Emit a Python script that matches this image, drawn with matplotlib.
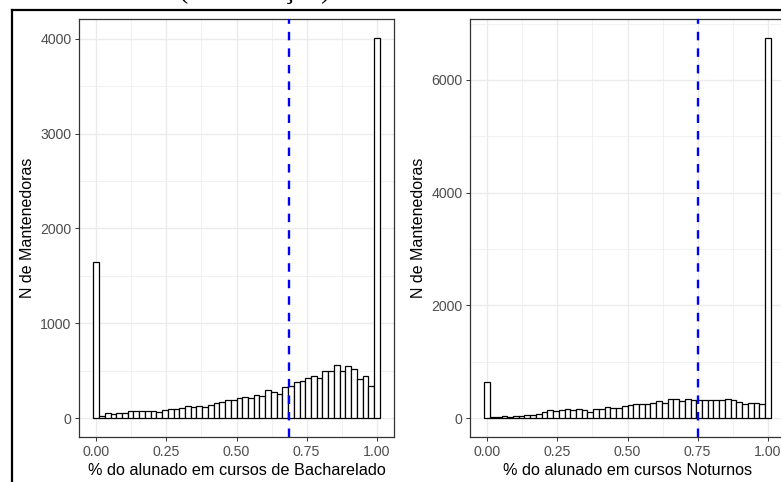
import matplotlib
matplotlib.use("Agg")
import matplotlib.pyplot as plt
from matplotlib.lines import Line2D
import numpy as np

# histogram counts, 50 bins centred on k/49 (ggplot style)
bach_counts = [1650, 21, 53, 42, 56, 56, 77, 77, 77, 77,
               77, 67, 81, 91, 91, 105, 127, 116, 127, 120,
               134, 162, 172, 193, 185, 211, 221, 207, 246, 232,
               299, 271, 257, 323, 337, 379, 393, 418, 443, 418,
               496, 496, 559, 500, 545, 517, 415, 440, 334, 4010]
noturno_counts = [644, 15, 15, 36, 18, 36, 36, 59, 59, 77,
                  112, 136, 118, 136, 154, 136, 154, 136, 112, 154,
                  154, 195, 172, 170, 213, 237, 243, 254, 254, 266,
                  302, 266, 343, 343, 308, 343, 320, 320, 320, 320,
                  320, 320, 343, 320, 290, 254, 266, 266, 249, 6745]
bach_mean = 0.687
noturno_mean = 0.752

x_ticks = [0.0, 0.25, 0.5, 0.75, 1.0]
x_labels = ["0.00", "0.25", "0.50", "0.75", "1.00"]
bach_yticks = [0, 1000, 2000, 3000, 4000]
noturno_yticks = [0, 2000, 4000, 6000]

bach_xlabel = "% do alunado em cursos de Bacharelado"
noturno_xlabel = "% do alunado em cursos Noturnos"
ylabel = "N de Mantenedoras"

plt.rcParams['font.family'] = ['Liberation Sans', 'DejaVu Sans']

W, H = 781, 482
fig = plt.figure(figsize=(W / 100, H / 100), dpi=100)


def px_axes(x0, y0, x1, y1):
    return fig.add_axes([x0 / W, 1 - y1 / H, (x1 - x0) / W, (y1 - y0) / H])


def draw_hist(ax, counts, mean, yticks, xlabel):
    n = len(counts)
    width = 1 / (n - 1)
    centers = np.arange(n) * width
    ax.bar(centers, counts, width=width, color="white", edgecolor="black",
           linewidth=0.9, zorder=2)
    ax.axvline(mean, color="#0000FF", linewidth=1.7, dashes=(3.6, 3.4), zorder=3)

    ax.set_xticks(x_ticks)
    ax.set_xticklabels(x_labels)
    ax.set_yticks(yticks)
    ax.set_xticks([0.125, 0.375, 0.625, 0.875], minor=True)
    ax.set_yticks([t + (yticks[1] - yticks[0]) / 2 for t in yticks], minor=True)

    # ggplot-like 5% expansion, set after ticks so they don't widen it
    top = max(counts)
    lo, hi = -width / 2, 1 + width / 2
    pad = (hi - lo) * 0.05
    ax.set_xlim(lo - pad, hi + pad)
    ax.set_ylim(-top * 0.05, top * 1.05)

    ax.grid(which="major", color="#EBEBEB", linewidth=1.0, zorder=0)
    ax.grid(which="minor", color="#EBEBEB", linewidth=0.5, zorder=0)
    ax.set_axisbelow(True)
    ax.tick_params(which="minor", length=0)
    ax.tick_params(which="major", length=3, width=0.7, color="#333333",
                   labelcolor="#4D4D4D", labelsize=10.2, pad=2.5)
    for s in ax.spines.values():
        s.set_color("#333333")
        s.set_linewidth(0.9)
    ax.set_xlabel(xlabel, fontsize=11.7, color="black", labelpad=3)
    ax.set_ylabel(ylabel, fontsize=11.5, color="black", labelpad=4)


ax1 = px_axes(79, 19, 394, 437)
draw_hist(ax1, bach_counts, bach_mean, bach_yticks, bach_xlabel)

ax2 = px_axes(470, 19, 785, 437)
draw_hist(ax2, noturno_counts, noturno_mean, noturno_yticks, noturno_xlabel)

# page frame and the caption of the source document, cut at the top edge
fig.add_artist(Line2D([12 / W, 12 / W], [0, 1 - 10 / H], color="black",
                      linewidth=1.6, transform=fig.transFigure))
fig.add_artist(Line2D([12 / W, 1], [1 - 10 / H, 1 - 10 / H], color="black",
                      linewidth=1.6, transform=fig.transFigure))
fig.text(255 / W, 1 + 2.5 / H, "(continuação)", family="Liberation Serif",
         fontsize=20, ha="center", va="baseline", color="black")

fig.savefig("out.png", dpi=100)
